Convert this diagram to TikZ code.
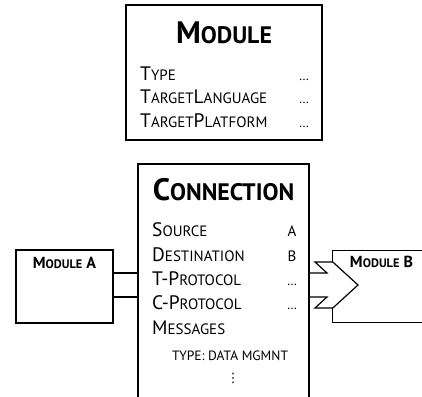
\documentclass[tikz,border=0pt]{standalone}
\usepackage{fontspec}
\setmainfont{PT Sans}
\newfontfamily\smcfont[Scale=0.77]{PT Sans}
\newfontfamily\symfont{DejaVu Sans}
\newcommand{\smc}[1]{{\smcfont #1}}
\begin{document}
\begin{tikzpicture}[x=1pt, y=-1pt]
        \tikzstyle{box} = [draw=black, line width=1.2pt, inner sep=0]
        \tikzstyle{edgeline} = [draw=black, line width=1.2pt, line join=miter]
        \tikzstyle{title} = [anchor=base, inner sep=0, font=\fontsize{31}{33}\selectfont\bfseries]
        \tikzstyle{row} = [anchor=base west, inner sep=0, font=\fontsize{19.5}{21}\selectfont]
        \tikzstyle{val} = [anchor=base, inner sep=0, font=\fontsize{19.5}{21}\selectfont]
        \tikzstyle{dots} = [anchor=base, inner sep=0, font=\fontsize{13}{14}\selectfont]
        \tikzstyle{modname} = [anchor=base, inner sep=0, font=\fontsize{16}{18}\selectfont\bfseries]
        \clip (0,0) rectangle (422,396);
        \node[box, minimum width=196, minimum height=135] (module) at (224,72.5) {};
        \node[title] (modtitle) at (224,44) {M\smc{ODULE}};
        \node[row] (type) at (140,80) {T\smc{YPE}};
        \node[row] (lang) at (140,103.5) {T\smc{ARGET}L\smc{ANGUAGE}};
        \node[row] (plat) at (140,127) {T\smc{ARGET}P\smc{LATFORM}};
        \node[dots] (typeval) at (304,80) {\dots};
        \node[dots] (langval) at (304,103.5) {\dots};
        \node[dots] (platval) at (304,127) {\dots};

        \node[box, minimum width=171, minimum height=256] (conn) at (223.5,292) {};
        \node[title] (conntitle) at (223.5,200) {C\smc{ONNECTION}};
        \node[row] (src) at (152,236.5) {S\smc{OURCE}};
        \node[row] (dst) at (152,261) {D\smc{ESTINATION}};
        \node[row] (tprot) at (152,285) {T-P\smc{ROTOCOL}};
        \node[row] (cprot) at (152,309.5) {C-P\smc{ROTOCOL}};
        \node[row] (msgs) at (152,334.5) {M\smc{ESSAGES}};
        \node[val] (srcval) at (292,236.5) {\smc{A}};
        \node[val] (dstval) at (292,261) {\smc{B}};
        \node[dots] (tprotval) at (292,285) {\dots};
        \node[dots] (cprotval) at (292,309.5) {\dots};
        \node[anchor=base, inner sep=0, font=\fontsize{13.5}{15}\selectfont] (msgtype) at (230,360) {TYPE: DATA MGMNT};
        \node[anchor=base, inner sep=0, font=\fontsize{13}{14}\selectfont\symfont] (more) at (233,382) {⋮};

        \node[box, minimum width=97, minimum height=73] (modA) at (64.5,286.5) {};
        \node[modname] (modAname) at (64.5,268) {M\smc{ODULE} A};
        \node[inner sep=0, minimum width=97, minimum height=71] (modB) at (381.5,286.5) {};
        \node[modname] (modBname) at (381.5,267) {M\smc{ODULE} B};

        \coordinate (notchtop) at (315,262);
        \coordinate (notchbot) at (315,308);
        \coordinate (tip) at (358,285);
        \path[edgeline]
                (modA.east |- 0,273) edge (conn.west |- 0,273)
                (modA.east |- 0,297) edge (conn.west |- 0,297);
        \draw[edgeline] (conn.east |- 0,273) -- (327,273) -- (notchtop) -- (modB.west |- notchtop) -- (tip)
                -- (modB.west |- notchbot) -- (notchbot) -- (327,297) -- (conn.east |- 0,297);
        \draw[edgeline] (modB.west |- notchtop) -- (modB.north west) -- (modB.north east);
        \draw[edgeline] (modB.west |- notchbot) -- (modB.south west) -- (modB.south east);
\end{tikzpicture}
\end{document}
